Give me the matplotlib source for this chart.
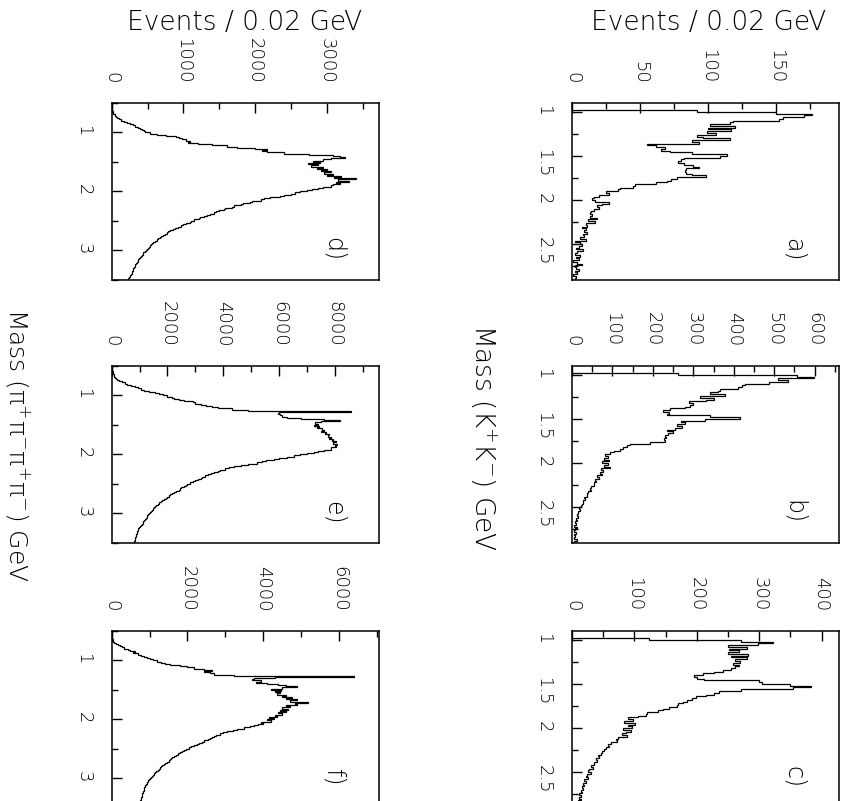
#Plot: K+K- and pi+pi-pi+pi- mass spectra, page rotated (6 panels)
import numpy as np
import matplotlib
matplotlib.use("Agg")
import matplotlib.pyplot as plt
from matplotlib.ticker import MultipleLocator, FuncFormatter

plt.rcParams.update({'font.family': 'DejaVu Sans', 'font.weight': 'light'})

# histogram bins (GeV)
bin_w = 0.02
kk_start = 0.98
pipi_start = 0.50

# K+K- spectra, events / 0.02 GeV from 0.98 GeV
kk_a = [92, 150, 176, 170, 155, 152, 118, 116, 101, 120,
        100, 117, 99, 106, 92, 96, 116, 88, 93, 55,
        62, 68, 65, 72, 88, 114, 109, 82, 80, 78,
        82, 89, 93, 84, 83, 84, 88, 98, 77, 73,
        70, 62, 46, 45, 35, 34, 25, 27, 20, 16,
        15, 17, 27, 22, 18, 20, 16, 14, 13, 15,
        13, 18, 12, 17, 10, 11, 7, 10, 9, 11,
        8, 9, 6, 10, 2, 6, 7, 5, 3, 8,
        4, 2, 6, 3, 5, 1, 4, 7, 2, 3,
        5, 2, 4, 1, 3, 2]
kk_b = [263, 556, 597, 510, 535, 486, 428, 420, 410, 366,
        360, 340, 379, 317, 350, 330, 288, 300, 292, 280,
        243, 226, 240, 236, 342, 416, 329, 270, 280, 259,
        272, 255, 235, 250, 238, 230, 232, 228, 230, 193,
        144, 136, 125, 119, 103, 95, 82, 90, 78, 92,
        74, 88, 80, 95, 72, 76, 70, 74, 62, 66,
        58, 60, 54, 55, 48, 44, 46, 40, 36, 38,
        30, 32, 28, 26, 24, 22, 18, 20, 14, 16,
        12, 15, 10, 12, 8, 10, 6, 12, 8, 5,
        10, 4, 8, 6, 12, 4]
kk_c = [124, 271, 322, 298, 250, 280, 252, 268, 250, 282,
        255, 280, 262, 270, 258, 268, 262, 255, 242, 228,
        210, 196, 200, 212, 300, 305, 350, 383, 355, 271,
        236, 228, 214, 199, 192, 185, 178, 170, 168, 156,
        146, 138, 121, 118, 105, 89, 98, 84, 101, 90,
        96, 82, 94, 86, 80, 88, 74, 70, 72, 62,
        58, 60, 55, 52, 48, 46, 42, 44, 38, 40,
        35, 36, 30, 33, 28, 26, 30, 24, 22, 25,
        20, 22, 18, 20, 16, 18, 14, 16, 12, 15,
        12, 14, 10, 12, 10, 9]

# pi+pi-pi+pi- spectra, events / 0.02 GeV from 0.50 GeV
pipi_d = [0, 0, 0, 0, 0, 5, 10, 15, 25, 40,
          50, 60, 75, 95, 130, 170, 210, 260, 300, 330,
          370, 400, 420, 445, 470, 540, 630, 760, 900, 940,
          980, 1030, 1090, 1060, 1200, 1400, 1600, 1750, 2000, 2160,
          2100, 2160, 2400, 2750, 3090, 3180, 3256, 3050, 2950, 2800,
          2900, 2740, 2880, 2780, 2950, 2860, 3000, 2920, 3050, 2960,
          3080, 3000, 3200, 3100, 3400, 3150, 3300, 3120, 3180, 3090,
          3050, 2950, 2880, 2790, 2720, 2630, 2560, 2500, 2395, 2350,
          2210, 2120, 2080, 1960, 1920, 1830, 1800, 1700, 1670, 1580,
          1560, 1500, 1460, 1420, 1370, 1330, 1290, 1230, 1210, 1150,
          1110, 1090, 1040, 990, 960, 920, 880, 850, 810, 790,
          770, 740, 720, 690, 675, 650, 630, 600, 580, 560,
          545, 530, 515, 500, 490, 475, 460, 440, 430, 420,
          405, 395, 380, 370, 360, 350, 340, 330, 320, 310,
          300, 295, 290, 285, 280, 270, 260, 250, 240, 230]
pipi_e = [0, 5, 10, 20, 30, 40, 55, 70, 90, 120,
          150, 200, 260, 380, 480, 560, 700, 820, 950, 1040,
          1150, 1350, 1550, 1700, 1850, 2000, 2150, 2250, 2400, 2600,
          2900, 3000, 3200, 3400, 3600, 3800, 4300, 4900, 8600, 6000,
          5950, 6050, 6100, 6300, 6800, 7600, 8200, 7500, 7300, 7400,
          7270, 7450, 7350, 7550, 7600, 7500, 7700, 7650, 7800, 7750,
          7870, 7800, 7950, 7900, 8050, 7950, 8100, 8000, 8050, 7870,
          7870, 7600, 7400, 7270, 7000, 6750, 6550, 6300, 6000, 5830,
          5550, 5400, 5230, 4900, 4650, 4400, 4200, 4050, 3900, 3800,
          3680, 3550, 3450, 3350, 3250, 3200, 3100, 3000, 2900, 2800,
          2700, 2650, 2600, 2500, 2450, 2400, 2300, 2240, 2180, 2100,
          2050, 1980, 1940, 1880, 1820, 1760, 1700, 1650, 1600, 1560,
          1520, 1480, 1440, 1400, 1370, 1340, 1310, 1280, 1250, 1220,
          1200, 1170, 1140, 1110, 1080, 1040, 1010, 980, 960, 940,
          920, 900, 890, 870, 860, 850, 840, 830, 820, 810]
pipi_f = [0, 0, 0, 0, 5, 10, 15, 25, 40, 70,
          110, 160, 210, 265, 330, 420, 490, 620, 560, 700,
          780, 860, 930, 1020, 1100, 1190, 1300, 1420, 1545, 1800,
          2000, 2160, 2430, 2650, 2450, 2600, 2690, 3220, 6400, 4300,
          3750, 3700, 3930, 3800, 4100, 4400, 4600, 4900, 4500, 4200,
          4460, 4300, 4450, 4370, 4600, 4500, 4750, 4600, 4900, 4700,
          5170, 4850, 4900, 4600, 4720, 4500, 4650, 4450, 4600, 4400,
          4500, 4300, 4370, 4150, 4280, 4100, 4200, 3930, 4000, 3850,
          3750, 3660, 3500, 3310, 3200, 3050, 2950, 2850, 2750, 2700,
          2650, 2600, 2530, 2450, 2380, 2300, 2250, 2160, 2100, 2030,
          1960, 1900, 1850, 1810, 1750, 1700, 1650, 1600, 1570, 1545,
          1500, 1460, 1420, 1380, 1340, 1300, 1280, 1240, 1210, 1180,
          1150, 1120, 1100, 1070, 1040, 1010, 980, 960, 940, 930,
          910, 890, 870, 860, 850, 840, 830, 820, 810, 800,
          790, 780, 770, 765, 760, 755, 750, 745, 740, 735]

W, H = 845, 801
fig = plt.figure(figsize=(W / 100, H / 100), dpi=100)

def px_rect(left, top, w, h):
    return [left / W, 1 - (top + h) / H, w / W, h / H]

def panel(rect, values, start, xmax, ymin, ymax, cmaj, mmaj, tag):
    ax = fig.add_axes(rect)
    edges = start + bin_w * np.arange(len(values) + 1)
    ax.stairs(values, edges, orientation='horizontal', color='black', linewidth=0.9)
    ax.set_xlim(0, xmax)
    ax.set_ylim(ymax, ymin)  #mass runs downwards
    ax.xaxis.set_major_locator(MultipleLocator(cmaj))
    ax.xaxis.set_minor_locator(MultipleLocator(cmaj / 2))
    ax.yaxis.set_major_locator(MultipleLocator(mmaj))
    ax.yaxis.set_minor_locator(MultipleLocator(mmaj / 2))
    ax.yaxis.set_major_formatter(FuncFormatter(lambda v, p: "%g" % v))
    ax.xaxis.set_major_formatter(FuncFormatter(lambda v, p: "%d" % v))
    ax.tick_params(axis="x", which="both", direction="in", top=True, bottom=False,
                   labeltop=True, labelbottom=False, labelrotation=-90, labelsize=13, pad=14)
    ax.tick_params(axis="y", which="both", direction="in", left=True, right=False,
                   labelrotation=-90, labelsize=13, pad=14)
    ax.tick_params(which="major", length=7, width=1)
    ax.tick_params(which="minor", length=4.5, width=1)
    for s in ax.spines.values():
        s.set_linewidth(1.1)
    ax.text(0.83, 0.17, tag, transform=ax.transAxes, rotation=-90,
            ha="center", va="center", fontsize=17)
    return ax

lx, rx, bw, bh = 111.7, 572, 267, 176.5
tops = [103, 366, 631]

panel(px_rect(lx, tops[0], bw, bh), pipi_d, pipi_start, 3720, 0.5, 3.5, 1000, 1, "d)")
panel(px_rect(lx, tops[1], bw, bh), pipi_e, pipi_start, 9580, 0.5, 3.5, 2000, 1, "e)")
panel(px_rect(lx, tops[2], bw, bh), pipi_f, pipi_start, 7050, 0.5, 3.5, 2000, 1, "f)")
panel(px_rect(rx, tops[0], bw, bh), kk_a, kk_start, 196, 0.9, 2.9, 50, 0.5, "a)")
panel(px_rect(rx, tops[1], bw, bh), kk_b, kk_start, 660, 0.9, 2.9, 100, 0.5, "b)")
panel(px_rect(rx, tops[2], bw, bh), kk_c, kk_start, 428, 0.9, 2.9, 100, 0.5, "c)")

fig.text(245 / W, 1 - 22 / H, "Events / 0.02 GeV", ha="center", va="center", fontsize=19)
fig.text(709 / W, 1 - 22 / H, "Events / 0.02 GeV", ha="center", va="center", fontsize=19)
fig.text(483 / W, 1 - 438 / H, r"Mass (K$^{+}$K$^{-}$) GeV", rotation=-90,
         ha="center", va="center", fontsize=19)
fig.text(18 / W, 1 - 445 / H, r"Mass ($\mathregular{π^{+}π^{-}π^{+}π^{-}}$) GeV", rotation=-90,
         ha="center", va="center", fontsize=18)

fig.savefig("out.png", dpi=100)
